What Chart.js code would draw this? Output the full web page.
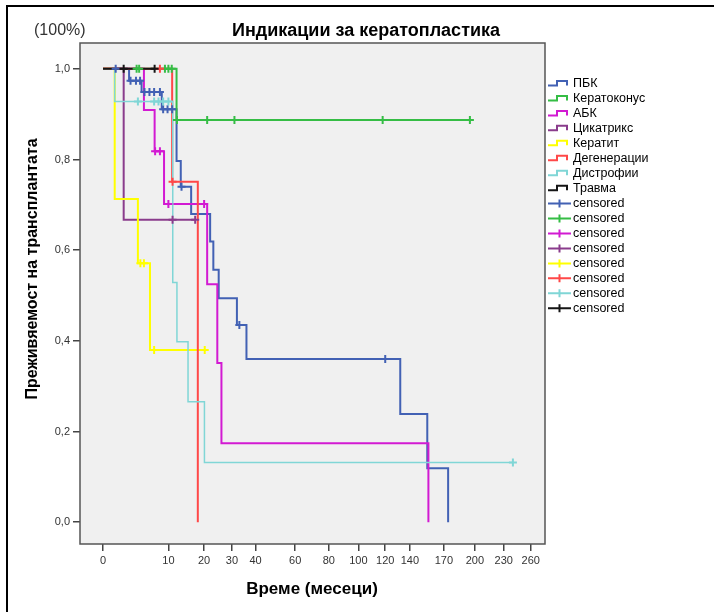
<!DOCTYPE html>
<html lang="bg">
<head>
<meta charset="UTF-8" />
<title>Индикации за кератопластика</title>
<script src="https://cdn.jsdelivr.net/npm/chart.js@4.4.0/dist/chart.umd.min.js"></script>
<style>
  html, body { margin: 0; padding: 0; background: #fff; }
  #km { display: block; }
</style>
</head>
<body>
<canvas id="km" width="714" height="612"></canvas>
<script>
// x axis ticks (months) and y axis ticks (survival)
const xTickValues = [0, 10, 20, 30, 40, 60, 80, 100, 120, 140, 170, 200, 230, 260];
const yTickValues = [0, 0.2, 0.4, 0.6, 0.8, 1.0];

// Kaplan-Meier curves: event times, survival after each event, censored times
const pbkTimes = [2.7, 4.6, 8.5, 12.0, 13.1, 16.0, 22.0, 23.1, 25.0, 32.0, 36.0, 132.0, 155.0, 174.0];
const pbkSurv = [0.974, 0.949, 0.911, 0.797, 0.740, 0.680, 0.619, 0.557, 0.494, 0.435, 0.360, 0.239, 0.119, 0];
const pbkCensored = [1.1, 2.9, 3.7, 4.35, 5.1, 6.0, 6.9, 8.1, 8.8, 9.8, 10.9, 13.3, 33.0, 120.0];

const keratoconusTimes = [12.0];
const keratoconusSurv = [0.887];
const keratoconusCensored = [3.8, 4.2, 9.2, 10.0, 10.8, 12.1, 21.0, 31.0, 118.0, 195.0];

const abkTimes = [5.0, 7.0, 9.0, 21.0, 24.5, 26.0, 156.0];
const abkSurv = [0.909, 0.818, 0.702, 0.525, 0.351, 0.174, 0];
const abkCensored = [7.1, 8.1, 10.0, 20.0];

const cicatrixTimes = [2.0];
const cicatrixSurv = [0.667];
const cicatrixCensored = [11.0, 17.2];

const keratitisTimes = [1.0, 4.0, 6.1];
const keratitisSurv = [0.713, 0.571, 0.380];
const keratitisCensored = [4.4, 5.0, 6.9, 20.2];

const degenerationTimes = [10.9, 18.0];
const degenerationSurv = [0.751, 0];
const degenerationCensored = [8.1, 11.0];

const dystrophyTimes = [1.0, 11.05, 12.1, 15.1, 20.1];
const dystrophySurv = [0.928, 0.529, 0.398, 0.266, 0.132];
const dystrophyCensored = [4.0, 6.9, 7.8, 8.8, 10.0, 240.0];

const traumaTimes = [];
const traumaSurv = [];
const traumaCensored = [2.0, 7.0];

const groups = [
  { label: 'ПБК', color: '#4261b4', width: 2, times: pbkTimes, surv: pbkSurv, censored: pbkCensored },
  { label: 'Кератоконус', color: '#35bd45', width: 2, times: keratoconusTimes, surv: keratoconusSurv, censored: keratoconusCensored },
  { label: 'АБК', color: '#d21ad2', width: 2, times: abkTimes, surv: abkSurv, censored: abkCensored },
  { label: 'Цикатрикс', color: '#8a3c8c', width: 2, times: cicatrixTimes, surv: cicatrixSurv, censored: cicatrixCensored },
  { label: 'Кератит', color: '#ffff00', width: 2, times: keratitisTimes, surv: keratitisSurv, censored: keratitisCensored },
  { label: 'Дегенерации', color: '#ff4848', width: 2, times: degenerationTimes, surv: degenerationSurv, censored: degenerationCensored },
  { label: 'Дистрофии', color: '#80d6d6', width: 1.5, times: dystrophyTimes, surv: dystrophySurv, censored: dystrophyCensored },
  { label: 'Травма', color: '#151515', width: 2, times: traumaTimes, surv: traumaSurv, censored: traumaCensored }
];

// survival at time t (step function)
function survAt(g, t) {
  let s = 1;
  g.times.forEach((et, i) => { if (et <= t) s = g.surv[i]; });
  return s;
}

function curvePoints(g) {
  const pts = [{ x: 0, y: 1 }];
  g.times.forEach((t, i) => pts.push({ x: t, y: g.surv[i] }));
  const lastEvent = g.times.length ? g.times[g.times.length - 1] : 0;
  const lastCens = g.censored.length ? Math.max(...g.censored) : 0;
  if (lastCens > lastEvent) pts.push({ x: lastCens, y: survAt(g, lastCens) });
  return pts;
}

// square-root time axis: pixel ~ sqrt(t + 1)
const tf = v => Math.sqrt(v + 1) - 1;
class SqrtScale extends Chart.LinearScale {
  buildTicks() {
    return xTickValues.map(v => ({ value: v }));
  }
  configure() {
    super.configure();
    this._tStart = tf(this.min);
    this._tRange = tf(this.max) - this._tStart;
  }
  getPixelForValue(value) {
    if (value === null || isNaN(value)) return NaN;
    return this.getPixelForDecimal((tf(value) - this._tStart) / this._tRange);
  }
  getValueForPixel(pixel) {
    const t = this._tStart + this.getDecimalForPixel(pixel) * this._tRange;
    return (t + 1) * (t + 1) - 1;
  }
}
SqrtScale.id = 'sqrt';
SqrtScale.defaults = Chart.LinearScale.defaults;
Chart.register(SqrtScale);

const FONT = '"Liberation Sans", Arial, sans-serif';

const datasets = [];
groups.forEach((g, i) => {
  datasets.push({
    type: 'line',
    label: g.label,
    data: curvePoints(g),
    borderColor: g.color,
    borderWidth: g.width,
    stepped: true,
    pointRadius: 0,
    fill: false,
    borderJoinStyle: 'miter',
    borderCapStyle: 'butt',
    order: 30 - i
  });
});
groups.forEach((g, i) => {
  datasets.push({
    type: 'line',
    label: 'censored',
    data: g.censored.map(t => ({ x: t, y: survAt(g, t) })),
    showLine: false,
    pointStyle: 'cross',
    pointRadius: 4,
    pointBorderWidth: 2,
    pointBorderColor: g.color,
    borderColor: g.color,
    order: 10 - i
  });
});

const framePlugin = {
  id: 'frame',
  beforeDraw(chart) {
    const { ctx, chartArea: a } = chart;
    ctx.save();
    ctx.fillStyle = '#fff';
    ctx.fillRect(0, 0, chart.width, chart.height);
    ctx.fillStyle = '#f0f0f0';
    ctx.fillRect(a.left, a.top, a.right - a.left, a.bottom - a.top);
    // outer frame
    ctx.fillStyle = '#000';
    ctx.fillRect(6, 5, chart.width - 6, 2);
    ctx.fillRect(6, 5, 2, chart.height - 5);
    ctx.restore();
  },
  afterDraw(chart) {
    const { ctx, chartArea: a } = chart;
    ctx.save();
    ctx.strokeStyle = '#555';
    ctx.lineWidth = 1.5;
    ctx.strokeRect(a.left, a.top, a.right - a.left, a.bottom - a.top);

    ctx.fillStyle = '#000';
    ctx.textBaseline = 'middle';
    ctx.textAlign = 'center';
    ctx.font = 'bold 18px ' + FONT;
    ctx.fillText('Индикации за кератопластика', 366, 31);

    ctx.font = 'bold 17px ' + FONT;
    ctx.fillText('Време (месеци)', 312, 589);

    ctx.save();
    ctx.translate(33, 269);
    ctx.rotate(-Math.PI / 2);
    ctx.font = 'bold 16px ' + FONT;
    ctx.fillText('Преживяемост на трансплантата', 0, 0);
    ctx.restore();

    ctx.fillStyle = '#333';
    ctx.textAlign = 'left';
    ctx.font = '16px ' + FONT;
    ctx.fillText('(100%)', 34, 31);

    // legend
    const x0 = 548, tx = 573, y0 = 84, step = 14.95;
    ctx.font = '12.5px ' + FONT;
    groups.forEach((g, i) => {
      const y = y0 + i * step;
      ctx.strokeStyle = g.color;
      ctx.lineWidth = 2;
      ctx.beginPath();
      ctx.moveTo(x0, y + 1.5);
      ctx.lineTo(x0 + 9, y + 1.5);
      ctx.lineTo(x0 + 9, y - 3);
      ctx.lineTo(x0 + 19, y - 3);
      ctx.lineTo(x0 + 19, y + 1.5);
      ctx.stroke();
      ctx.fillStyle = '#000';
      ctx.fillText(g.label, tx, y);
    });
    groups.forEach((g, i) => {
      const y = y0 + (groups.length + i) * step;
      ctx.strokeStyle = g.color;
      ctx.lineWidth = 2;
      ctx.beginPath();
      ctx.moveTo(x0, y);
      ctx.lineTo(x0 + 23, y);
      ctx.moveTo(x0 + 11.5, y - 4);
      ctx.lineTo(x0 + 11.5, y + 4);
      ctx.stroke();
      ctx.fillStyle = '#000';
      ctx.fillText('censored', tx, y);
    });
    ctx.restore();
  }
};

new Chart(document.getElementById('km'), {
  data: { datasets },
  options: {
    responsive: false,
    animation: false,
    events: [],
    layout: { padding: { left: 0, top: 43, right: 714 - 545, bottom: 0 } },
    plugins: { legend: { display: false }, title: { display: false }, tooltip: { enabled: false } },
    scales: {
      x: {
        type: 'sqrt',
        min: -0.966,
        max: 276.6,
        border: { display: false },
        grid: { drawOnChartArea: false, drawTicks: true, tickLength: 7, tickColor: '#444', lineWidth: 1.5 },
        ticks: { color: '#333', font: { family: FONT, size: 11 }, padding: 3, maxRotation: 0, autoSkip: false, callback: v => String(v) },
        afterFit: s => { s.height = 612 - 544; }
      },
      y: {
        type: 'linear',
        min: -0.048,
        max: 1.057,
        border: { display: false },
        afterBuildTicks: s => { s.ticks = yTickValues.map(v => ({ value: v })); },
        grid: { drawOnChartArea: false, drawTicks: true, tickLength: 7, tickColor: '#444', lineWidth: 1.5 },
        ticks: { color: '#333', font: { family: FONT, size: 11 }, padding: 3, callback: v => v.toFixed(1).replace('.', ',') },
        afterFit: s => { s.width = 80; }
      }
    }
  },
  plugins: [framePlugin]
});
</script>
</body>
</html>
